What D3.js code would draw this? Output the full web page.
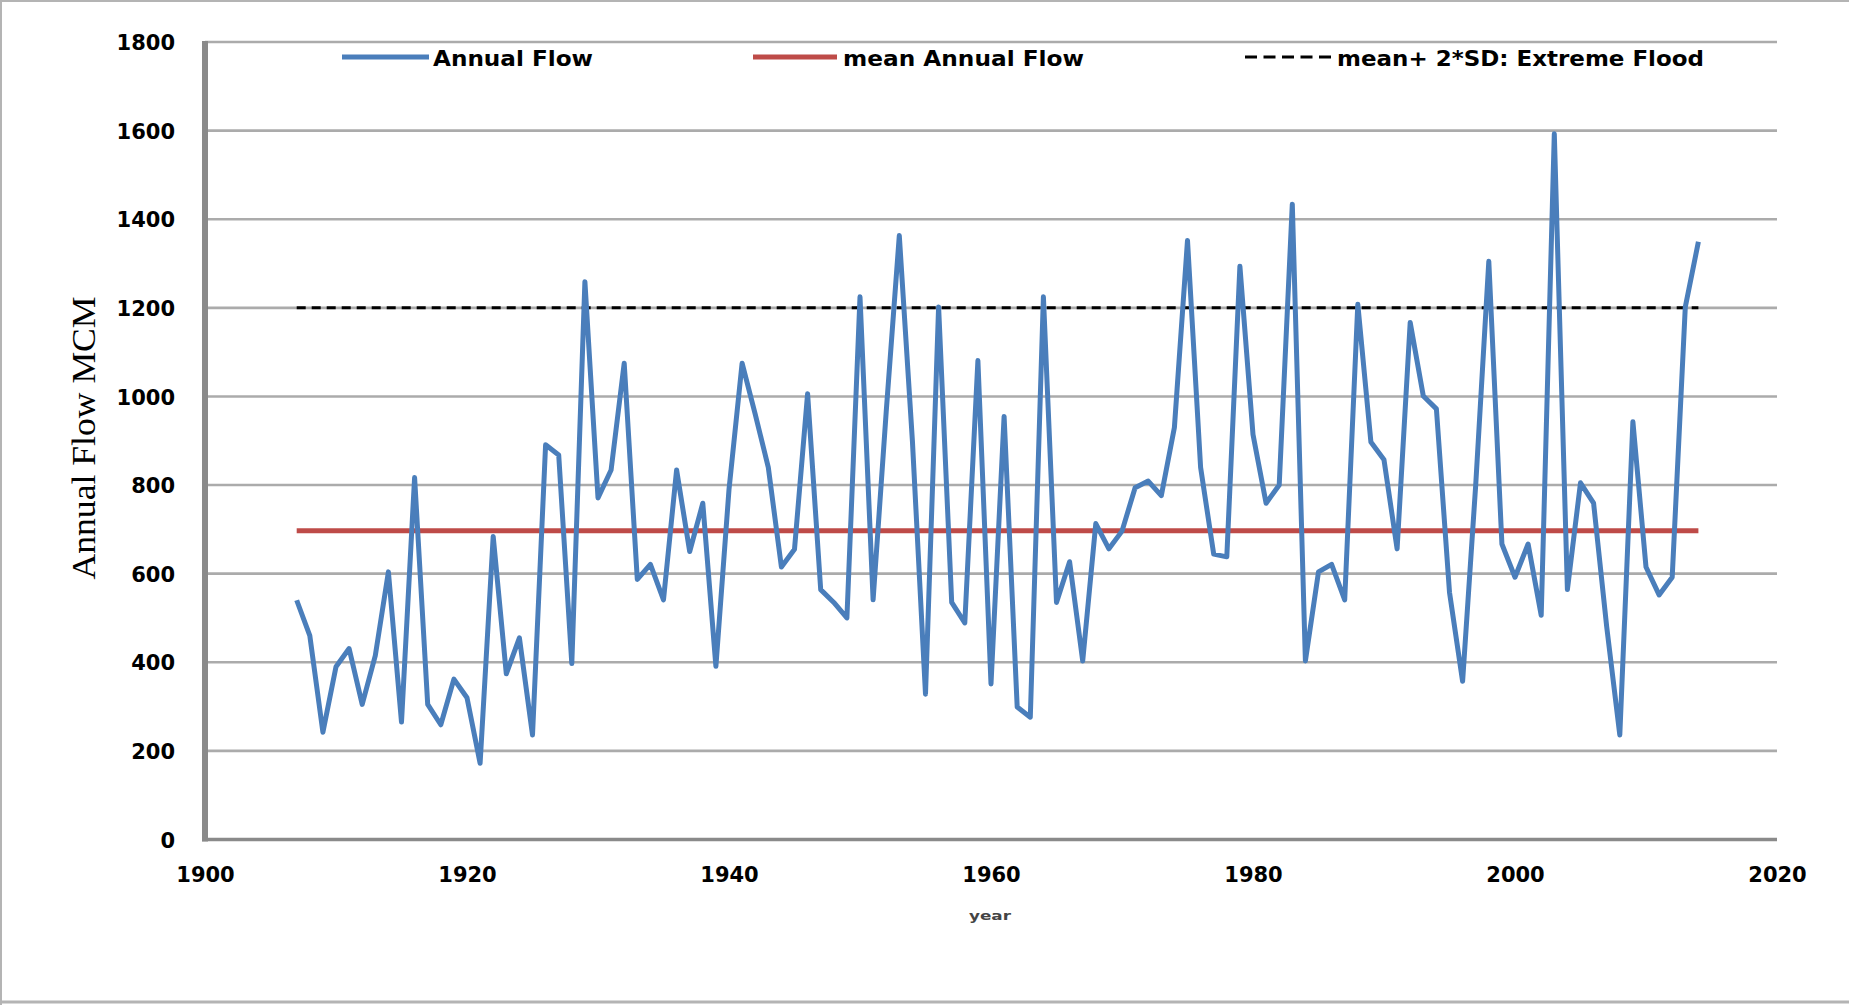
<!DOCTYPE html>
<html>
<head>
<meta charset="utf-8">
<script src="https://cdn.jsdelivr.net/npm/d3@7/dist/d3.min.js"></script>
<style>
  html, body { margin: 0; padding: 0; background: #fff; }
  svg { display: block; }
</style>
</head>
<body>
<svg id="chart" width="1849" height="1005"></svg>
<script>
// ---- data ----
const startYear = 1907;
const annualFlow = [
  540, 460, 242, 390, 431, 305, 415, 604, 265, 817,   // 1907-1916
  305, 259, 362, 320, 172, 684, 374, 455, 236, 891,   // 1917-1926
  868, 397, 1259, 771, 834, 1075, 587, 621, 541, 834, // 1927-1936
  650, 759, 391, 790, 1075, 960, 840, 615, 655, 1006, // 1937-1946
  564, 535, 500, 1225, 541, 965, 1363, 900, 328, 1202,// 1947-1956
  535, 489, 1081, 351, 955, 299, 276, 1225, 535, 627, // 1957-1966
  403, 713, 656, 696, 794, 809, 776, 930, 1352, 840,  // 1967-1976
  644, 638, 1294, 914, 759, 800, 1434, 403, 604, 621, // 1977-1986
  541, 1208, 897, 857, 656, 1167, 1001, 972, 558, 357,// 1987-1996
  800, 1305, 667, 592, 667, 506, 1593, 564, 805, 759, // 1997-2006
  480, 236, 943, 615, 552, 592, 1202, 1349            // 2007-2014
];
const years = annualFlow.map((d, i) => startYear + i);
const meanAnnualFlow = 697;
const extremeFlood = 1200;
const yTicks = [0, 200, 400, 600, 800, 1000, 1200, 1400, 1600, 1800];
const xTicks = [1900, 1920, 1940, 1960, 1980, 2000, 2020];
const legendLabels = ["Annual Flow", "mean Annual Flow", "mean+ 2*SD: Extreme Flood"];
const yTitle = "Annual Flow MCM";
const xTitle = "year";

// ---- drawing ----
const svg = d3.select("#chart");
const x = d3.scaleLinear().domain([1900, 2020]).range([205, 1777]);
const y = d3.scaleLinear().domain([0, 1800]).range([839.5, 42]);

// outer frame
svg.append("line").attr("x1", 0).attr("x2", 1849).attr("y1", 1).attr("y2", 1)
  .attr("stroke", "#b4b4b4").attr("stroke-width", 2);
svg.append("line").attr("x1", 1).attr("x2", 1).attr("y1", 0).attr("y2", 1005)
  .attr("stroke", "#b4b4b4").attr("stroke-width", 2);
svg.append("line").attr("x1", 0).attr("x2", 1849).attr("y1", 1002).attr("y2", 1002)
  .attr("stroke", "#b4b4b4").attr("stroke-width", 3);

// gridlines
svg.append("g").selectAll("line").data(yTicks.filter(d => d > 0)).join("line")
  .attr("x1", x(1900)).attr("x2", x(2020))
  .attr("y1", d => y(d)).attr("y2", d => y(d))
  .attr("stroke", "#ababab").attr("stroke-width", 2.6);

// y axis labels
const yAxis = d3.axisLeft(y).tickValues(yTicks).tickSize(0).tickPadding(0).tickFormat(d3.format("d"));
const gy = svg.append("g").attr("transform", "translate(175,0)").call(yAxis);
gy.select(".domain").remove();
gy.selectAll("text")
  .attr("font-family", "DejaVu Sans").attr("font-weight", "bold")
  .attr("font-size", 21).attr("fill", "#000").attr("dy", "0.36em");

// x axis labels
const xAxis = d3.axisBottom(x).tickValues(xTicks).tickSize(0).tickPadding(0).tickFormat(d3.format("d"));
const gx = svg.append("g").attr("transform", "translate(0,867)").call(xAxis);
gx.select(".domain").remove();
gx.selectAll("text")
  .attr("font-family", "DejaVu Sans").attr("font-weight", "bold")
  .attr("font-size", 21).attr("fill", "#000").attr("dy", "0.72em");

// axis lines
svg.append("line").attr("x1", x(1900)).attr("x2", x(1900)).attr("y1", y(1800) - 1).attr("y2", y(0) + 2)
  .attr("stroke", "#8a8a8a").attr("stroke-width", 6);
svg.append("line").attr("x1", x(1900) - 3).attr("x2", x(2020)).attr("y1", y(0)).attr("y2", y(0))
  .attr("stroke", "#8a8a8a").attr("stroke-width", 3.5);

// extreme flood dashed line
svg.append("line")
  .attr("x1", x(startYear)).attr("x2", x(years[years.length - 1]))
  .attr("y1", y(extremeFlood)).attr("y2", y(extremeFlood))
  .attr("stroke", "#000").attr("stroke-width", 3).attr("stroke-dasharray", "9,6");

// mean line
svg.append("line")
  .attr("x1", x(startYear)).attr("x2", x(years[years.length - 1]))
  .attr("y1", y(meanAnnualFlow)).attr("y2", y(meanAnnualFlow))
  .attr("stroke", "#be4b48").attr("stroke-width", 5);

// annual flow line
const line = d3.line().x((d, i) => x(years[i])).y(d => y(d));
svg.append("path").datum(annualFlow)
  .attr("d", line).attr("fill", "none")
  .attr("stroke", "#4a7ebb").attr("stroke-width", 5)
  .attr("stroke-linejoin", "round");

// legend
const lg = svg.append("g");
const legendY = 57;
lg.append("line").attr("x1", 342).attr("x2", 429).attr("y1", legendY).attr("y2", legendY)
  .attr("stroke", "#4a7ebb").attr("stroke-width", 5);
lg.append("line").attr("x1", 753).attr("x2", 837).attr("y1", legendY).attr("y2", legendY)
  .attr("stroke", "#be4b48").attr("stroke-width", 5);
lg.append("line").attr("x1", 1245).attr("x2", 1337).attr("y1", legendY).attr("y2", legendY)
  .attr("stroke", "#000").attr("stroke-width", 3).attr("stroke-dasharray", "12,6.5");
const legendText = [
  {t: legendLabels[0], x: 433, w: 160},
  {t: legendLabels[1], x: 843, w: 241},
  {t: legendLabels[2], x: 1337, w: 367}
];
lg.selectAll("text").data(legendText).join("text")
  .attr("x", d => d.x).attr("y", 66)
  .attr("textLength", d => d.w).attr("lengthAdjust", "spacingAndGlyphs")
  .attr("font-family", "DejaVu Sans").attr("font-weight", "bold")
  .attr("font-size", 21).attr("fill", "#000")
  .text(d => d.t);

// y title
svg.append("text")
  .attr("transform", "translate(95,438) rotate(-90)")
  .attr("text-anchor", "middle")
  .attr("textLength", 283).attr("lengthAdjust", "spacingAndGlyphs")
  .attr("font-family", "Liberation Serif").attr("font-size", 34).attr("fill", "#000")
  .text(yTitle);

// x title
svg.append("text")
  .attr("x", 990).attr("y", 920).attr("text-anchor", "middle")
  .attr("textLength", 42).attr("lengthAdjust", "spacingAndGlyphs")
  .attr("font-family", "DejaVu Sans").attr("font-weight", "bold")
  .attr("font-size", 13).attr("fill", "#444")
  .text(xTitle);
</script>
</body>
</html>
